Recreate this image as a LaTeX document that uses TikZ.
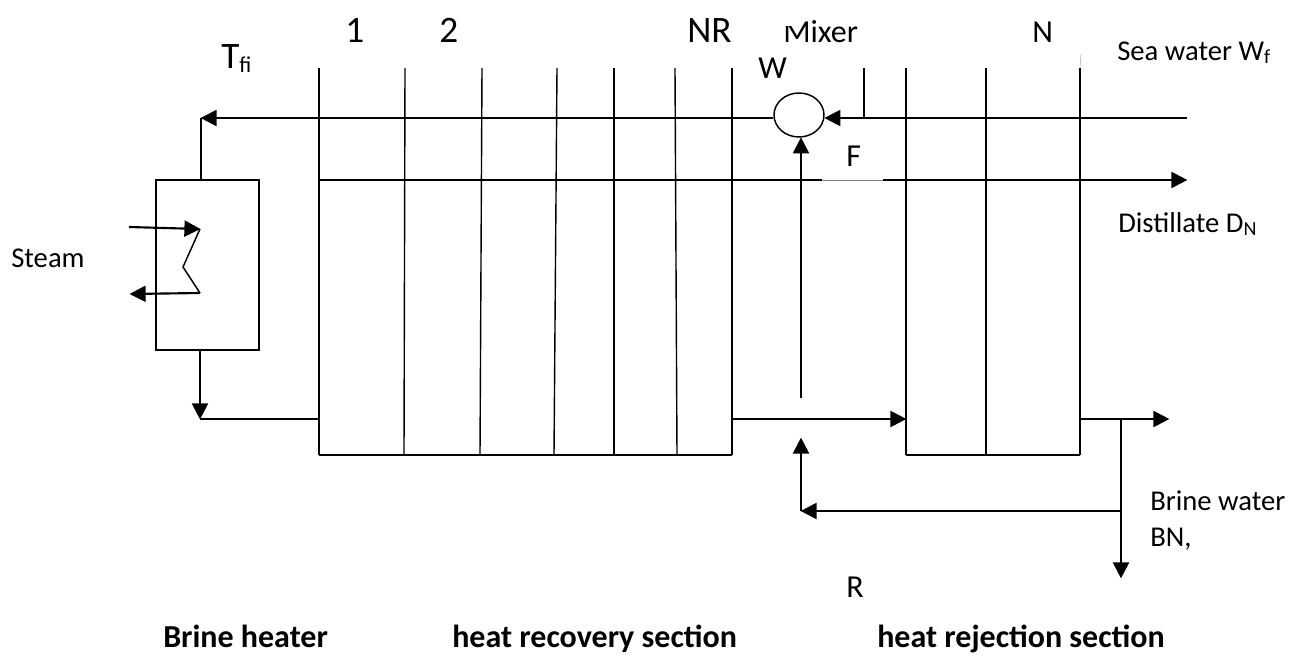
\documentclass[tikz,border=0pt]{standalone}
\usepackage{fontspec}
\setmainfont{Carlito}
\usetikzlibrary{shapes.geometric,arrows.meta,positioning}
\tikzset{
  flow/.style={line width=1.6pt,-{Triangle[length=12pt,width=12pt]},shorten >=-0.3pt},
  wire/.style={line width=1.1pt},
  wall/.style={line width=1.05pt},
  lab/.style={inner sep=0pt,anchor=base west,font=\fontsize{21.5}{24}\selectfont},
  mid/.style={inner sep=0pt,anchor=base west,font=\fontsize{24}{26}\selectfont},
  huge/.style={inner sep=0pt,anchor=base west,font=\fontsize{28}{30}\selectfont},
  head/.style={inner sep=0pt,anchor=base west,font=\bfseries\fontsize{24}{26}\selectfont},
}
\newcommand{\sbs}[2]{\raisebox{-0.12em}{\fontsize{#1}{#1}\selectfont #2}}
\begin{document}
\begin{tikzpicture}[x=0.75pt,y=-0.75pt]
\useasboundingbox (0,0) rectangle (1290,657);
% coordinates
\coordinate (a0) at (319,68);  \coordinate (b0) at (319,455);
\coordinate (a1) at (405,68);  \coordinate (b1) at (404,455);
\coordinate (a2) at (482,68);  \coordinate (b2) at (480,455);
\coordinate (a3) at (557,68);  \coordinate (b3) at (554,455);
\coordinate (a4) at (614,68);  \coordinate (b4) at (614,455);
\coordinate (a5) at (675,68);  \coordinate (b5) at (677,455);
\coordinate (a6) at (732,68);  \coordinate (b6) at (732,455);
\coordinate (m0) at (864,68);  \coordinate (m1) at (864,118);
\coordinate (c0) at (906,68);  \coordinate (d0) at (906,455);
\coordinate (c1) at (986,68);  \coordinate (d1) at (986,455);
\coordinate (c2) at (1080,68); \coordinate (d2) at (1080,455);
\coordinate (c3) at (1081,54);
% walls
\foreach \i in {0,...,6} \draw[wall] (a\i) -- (b\i);
\draw[wall] (b0) -- (b6);
\draw[wall] (m0) -- (m1);
\foreach \i in {0,1,2} \draw[wall] (c\i) -- (d\i);
\draw[wall] (d0) -- (d2);
\draw[line width=0.4pt,gray!70] (c3) -- (c2);
% mixer and heater
\node[ellipse,draw,line width=1.1pt,fill=white,minimum width=37.5pt,minimum height=33pt,inner sep=0pt] (mix) at (799,115) {};
\node[draw,line width=1.1pt,minimum width=77pt,minimum height=127.5pt,inner sep=0pt] (heater) at (207.5,265) {};
% top feed line
\coordinate (seaIn) at (1187,118);
\coordinate (tfi) at (201,118);
\draw[flow] (seaIn) -- (mix.east |- seaIn);
\draw[flow] (mix.west |- seaIn) -- (tfi);
\draw[wire] (tfi) -- (tfi |- heater.north);
% distillate
\coordinate (dl) at (319,180);
\coordinate (dg1) at (822,180);
\coordinate (dg2) at (883,180);
\coordinate (dOut) at (1187,180);
\draw[line width=1.6pt] (dl) -- (dg1);
\draw[line width=0.5pt,gray] (dg1) -- (dg2);
\draw[flow] (dg2) -- (dOut);
% recycle into mixer
\coordinate (upS) at (801,398);
\draw[flow] (upS) -- (upS |- mix.south);
% brine
\coordinate (recOut) at (732,419);
\coordinate (recIn) at (906,419);
\draw[flow] (recOut) -- (recIn);
\coordinate (rejOut) at (1080,419);
\coordinate (rejEnd) at (1169,419);
\coordinate (split) at (1121,419);
\coordinate (blow) at (1121,578);
\coordinate (tee) at (1121,511);
\coordinate (bend) at (801,511);
\coordinate (upE) at (801,438);
\draw[flow] (rejOut) -- (rejEnd);
\draw[flow] (split) -- (blow);
\draw[flow] (tee) -- (bend);
\draw[flow] (bend) -- (upE);
% heater internals
\coordinate (sIn) at (129,227);
\coordinate (z1) at (200,229);
\coordinate (z2) at (183,267);
\coordinate (z3) at (200,293);
\coordinate (sOut) at (130,294);
\draw[flow] (sIn) -- (z1);
\draw[wire] (z1) -- (z2) -- (z3);
\draw[flow] (z3) -- (sOut);
\coordinate (hb) at (200,350);
\coordinate (hl) at (200,419);
\coordinate (hr) at (319,419);
\draw[flow] (hb) -- (hl);
\draw[wire] (hl) -- (hr);
% labels
\node[huge] (n1) at (345,42) {1};
\node[huge] (n2) at (439,42) {2};
\node[huge] (nNR) at (687,42) {NR};
\node[mid] (nMix) at (783,42) {Mixer};
\fill[white] (782,19) rectangle (796,26);
\node[mid] (nN) at (1032,42) {N};
\node[mid] (nW) at (758,78) {W};
\node[mid] (nF) at (846,166) {F};
\node[huge] (nT) at (221,68) {T\sbs{17}{fi}};
\node[lab] (nSea) at (1117,60) {Sea water W\sbs{15}{f}};
\node[lab] (nDist) at (1118,232) {Distillate D\sbs{15}{N}};
\node[lab] (nSteam) at (11,267) {Steam};
\node[lab] (nB1) at (1150,510) {Brine water};
\node[lab] (nB2) at (1150,546) {BN,};
\node[mid] (nR) at (846,597) {R};
\node[head] (h1) at (163,647) {Brine heater};
\node[head] (h2) at (452,647) {heat recovery section};
\node[head] (h3) at (877,647) {heat rejection section};
\end{tikzpicture}
\end{document}
